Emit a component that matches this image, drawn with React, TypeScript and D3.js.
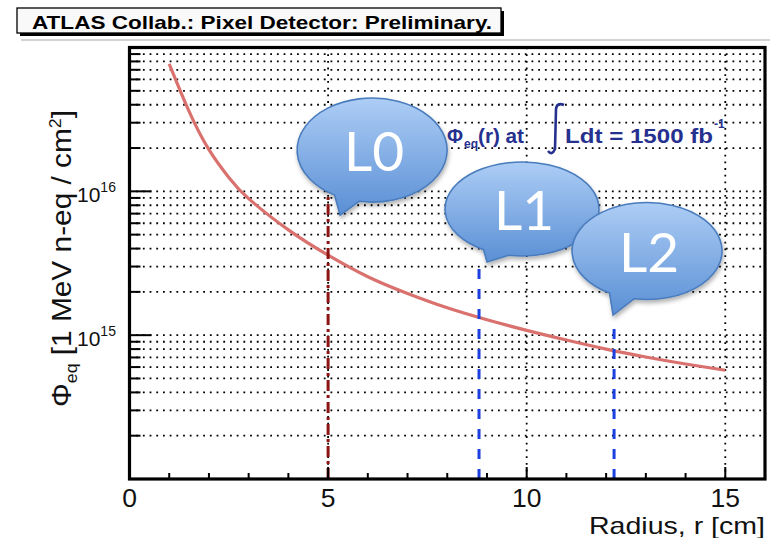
import React from "react";
import * as d3 from "d3";

// Fluence profile versus radius (cm -> 1 MeV n-eq / cm^2)
const radiusCm = [1, 1.5, 2, 2.5, 3, 4, 5, 6, 7, 8, 9, 10, 11, 12, 13, 14, 15];
const fluence = [
  7.7e16, 3.6e16, 1.95e16, 1.25e16, 8.9e15, 5.4e15, 3.6e15, 2.55e15, 1.95e15,
  1.55e15, 1.28e15, 1.08e15, 9.25e14, 8.0e14, 7.05e14, 6.3e14, 5.7e14,
];

// Pixel layers: radius and height of each marker line
const layerNames = ["L0", "L1", "L2"];
const layerRadius = [5.0, 8.8, 12.2];
const layerMarkerTop = [9.8e15, 2.95e15, 1.15e15];

const xTickValues = [0, 5, 10, 15];
const yLabelExponents = [15, 16];

const W = 775;
const H = 538;
const plot = { left: 129.5, right: 765, top: 47.5, bottom: 479 };

// Callout geometry, offsets from the top of each layer line
const callouts = [
  { dx: 44, dy: -42.5, rx: 75, ry: 52, tipDx: 12, tipDy: 22.5 },
  { dx: 43, dy: -58.6, rx: 77, ry: 47, tipDx: 8, tipDy: -5.6 },
  { dx: 33, dy: -75.4, rx: 75, ry: 48.5, tipDx: -1, tipDy: -11.4 },
];

const FONT = "'Liberation Sans', Arial, Helvetica, sans-serif";

function bubblePath(cx: number, cy: number, rx: number, ry: number, tx: number, ty: number) {
  const a1 = (100 * Math.PI) / 180;
  const a2 = (120 * Math.PI) / 180;
  const p1 = [cx + rx * Math.cos(a1), cy + ry * Math.sin(a1)];
  const p2 = [cx + rx * Math.cos(a2), cy + ry * Math.sin(a2)];
  return `M${p1[0]},${p1[1]} A${rx},${ry} 0 1 0 ${p2[0]},${p2[1]} L${tx},${ty} Z`;
}

export default function App() {
  const x = d3.scaleLinear().domain([0, 16]).range([plot.left, plot.right]);
  const y = d3.scaleLog().domain([1e14, 1e17]).range([plot.bottom, plot.top]);

  const minorY: number[] = [];
  for (const e of [14, 15, 16]) {
    for (let k = 2; k <= 9; k++) minorY.push(k * Math.pow(10, e));
  }
  const majorY = [1e15, 1e16];
  const gridY = [...majorY, ...minorY];
  const minorX = d3.range(1, 16).filter((v) => v % 5 !== 0);

  const line = d3
    .line<number>()
    .x((_, i) => x(radiusCm[i]))
    .y((d) => y(d))
    .curve(d3.curveNatural);

  const dotted = { stroke: "#000", strokeWidth: 1.8, strokeDasharray: "1.8 4.9" };

  return (
    <svg
      width={W}
      height={H}
      viewBox={`0 0 ${W} ${H}`}
      style={{ position: "absolute", left: 0, top: 0, background: "#fff" }}
    >
      <defs>
        <linearGradient id="bubbleFill" x1="0" y1="0" x2="0" y2="1">
          <stop offset="0" stopColor="#adcdf5" />
          <stop offset="1" stopColor="#5a8fd5" />
        </linearGradient>
        <filter id="bubbleShadow" x="-20%" y="-20%" width="140%" height="150%">
          <feDropShadow dx="1" dy="3" stdDeviation="2.2" floodColor="#000" floodOpacity="0.3" />
        </filter>
      </defs>

      {/* header rule and title box */}
      <line x1={21} x2={770} y1={40} y2={40} stroke="#c4c4c4" strokeWidth={1.5} />
      <g transform="translate(17,8)">
        <rect x={3} y={3} width={484} height={25} fill="#000" />
        <rect x={0} y={0} width={484} height={25} fill="#f9f9f9" stroke="#000" strokeWidth={1.3} />
        <text
          x={15}
          y={20.5}
          fontFamily={FONT}
          fontWeight="bold"
          fontSize={18.5}
          textLength={460}
          lengthAdjust="spacingAndGlyphs"
          fill="#000"
        >
          ATLAS Collab.: Pixel Detector: Preliminary.
        </text>
      </g>

      {/* grid */}
      {gridY.map((v) => (
        <line key={`gy${v}`} x1={plot.left} x2={plot.right} y1={y(v)} y2={y(v)} {...dotted} />
      ))}
      {xTickValues
        .filter((v) => v > 0)
        .map((v) => (
          <line key={`gx${v}`} x1={x(v)} x2={x(v)} y1={plot.top} y2={plot.bottom} {...dotted} />
        ))}

      {/* fluence curve */}
      <path d={line(fluence) || ""} fill="none" stroke="#d9716e" strokeWidth={3.2} />

      {/* layer positions */}
      {layerRadius.map((r, i) => (
        <line
          key={`lay${i}`}
          x1={x(r)}
          x2={x(r)}
          y1={plot.bottom}
          y2={y(layerMarkerTop[i])}
          stroke={i === 0 ? "#8e1414" : "#1b3fe0"}
          strokeWidth={3}
          strokeDasharray={i === 0 ? "11 4 3 4" : "10 10"}
        />
      ))}

      {/* axis ticks */}
      {majorY.map((v) => (
        <line key={`ty${v}`} x1={plot.left} x2={plot.left + 22} y1={y(v)} y2={y(v)} stroke="#000" strokeWidth={2} />
      ))}
      {minorY.map((v) => (
        <line key={`tmy${v}`} x1={plot.left} x2={plot.left + 11} y1={y(v)} y2={y(v)} stroke="#000" strokeWidth={2} />
      ))}
      {xTickValues.map((v) => (
        <line key={`tx${v}`} x1={x(v)} x2={x(v)} y1={plot.bottom} y2={plot.bottom - 12} stroke="#000" strokeWidth={2} />
      ))}
      {minorX.map((v) => (
        <line key={`tmx${v}`} x1={x(v)} x2={x(v)} y1={plot.bottom} y2={plot.bottom - 6} stroke="#000" strokeWidth={2} />
      ))}

      {/* frame */}
      <rect
        x={plot.left}
        y={plot.top}
        width={plot.right - plot.left}
        height={plot.bottom - plot.top}
        fill="none"
        stroke="#000"
        strokeWidth={3.2}
      />

      {/* tick labels */}
      {xTickValues.map((v) => (
        <text key={`lx${v}`} x={x(v)} y={507} textAnchor="middle" fontFamily={FONT} fontSize={26.5} fill="#111">
          {v}
        </text>
      ))}
      {yLabelExponents.map((e) => (
        <text key={`ly${e}`} x={77} y={y(Math.pow(10, e)) + 11} fontFamily={FONT} fontSize={21} fill="#111">
          10
          <tspan fontSize={14} dy={-10}>
            {e}
          </tspan>
        </text>
      ))}

      {/* axis titles */}
      <text
        x={765}
        y={534}
        textAnchor="end"
        fontFamily={FONT}
        fontSize={24}
        textLength={176}
        lengthAdjust="spacingAndGlyphs"
        fill="#111"
      >
        Radius, r [cm]
      </text>
      <text
        transform="translate(71,258.5) rotate(-90)"
        textAnchor="middle"
        fontFamily={FONT}
        fontSize={27}
        textLength={297}
        lengthAdjust="spacingAndGlyphs"
        fill="#111"
      >
        Φ
        <tspan fontSize={16} dy={6}>
          eq
        </tspan>
        <tspan dy={-6}> [1 MeV n-eq / cm</tspan>
        <tspan fontSize={16} dy={-10}>
          2
        </tspan>
        <tspan dy={10}>]</tspan>
      </text>

      {/* integrated luminosity note */}
      <g fill="#26308f" fontFamily={FONT} fontWeight="bold">
        <text x={447} y={143} fontSize={19.5}>
          Φ
        </text>
        <text x={464} y={148} fontSize={12}>
          eq
        </text>
        <text x={478} y={143} fontSize={19.5} textLength={46} lengthAdjust="spacingAndGlyphs">
          (r) at
        </text>
        <path
          d="M548,151 Q552,156 555,149 L556,109 Q557,102 564,105"
          fill="none"
          stroke="#26308f"
          strokeWidth={2.6}
        />
        <text x={565} y={143} fontSize={19.5} textLength={148} lengthAdjust="spacingAndGlyphs">
          Ldt = 1500 fb
        </text>
        <text x={714} y={128} fontSize={12}>
          -1
        </text>
      </g>

      {/* layer callouts */}
      {layerRadius.map((r, i) => {
        const ax = x(r);
        const ay = y(layerMarkerTop[i]);
        const c = callouts[i];
        const cx = ax + c.dx;
        const cy = ay + c.dy;
        return (
          <g key={`co${i}`}>
            <path
              d={bubblePath(cx, cy, c.rx, c.ry, ax + c.tipDx, ay + c.tipDy)}
              fill="url(#bubbleFill)"
              stroke="#4a7cbc"
              strokeWidth={1.6}
              filter="url(#bubbleShadow)"
            />
            <text
              x={cx + 2}
              y={cy + 21}
              textAnchor="middle"
              fontFamily="Lato, 'Open Sans', sans-serif"
              fontSize={55}
              fill="#fff"
            >
              {layerNames[i]}
            </text>
          </g>
        );
      })}
    </svg>
  );
}
